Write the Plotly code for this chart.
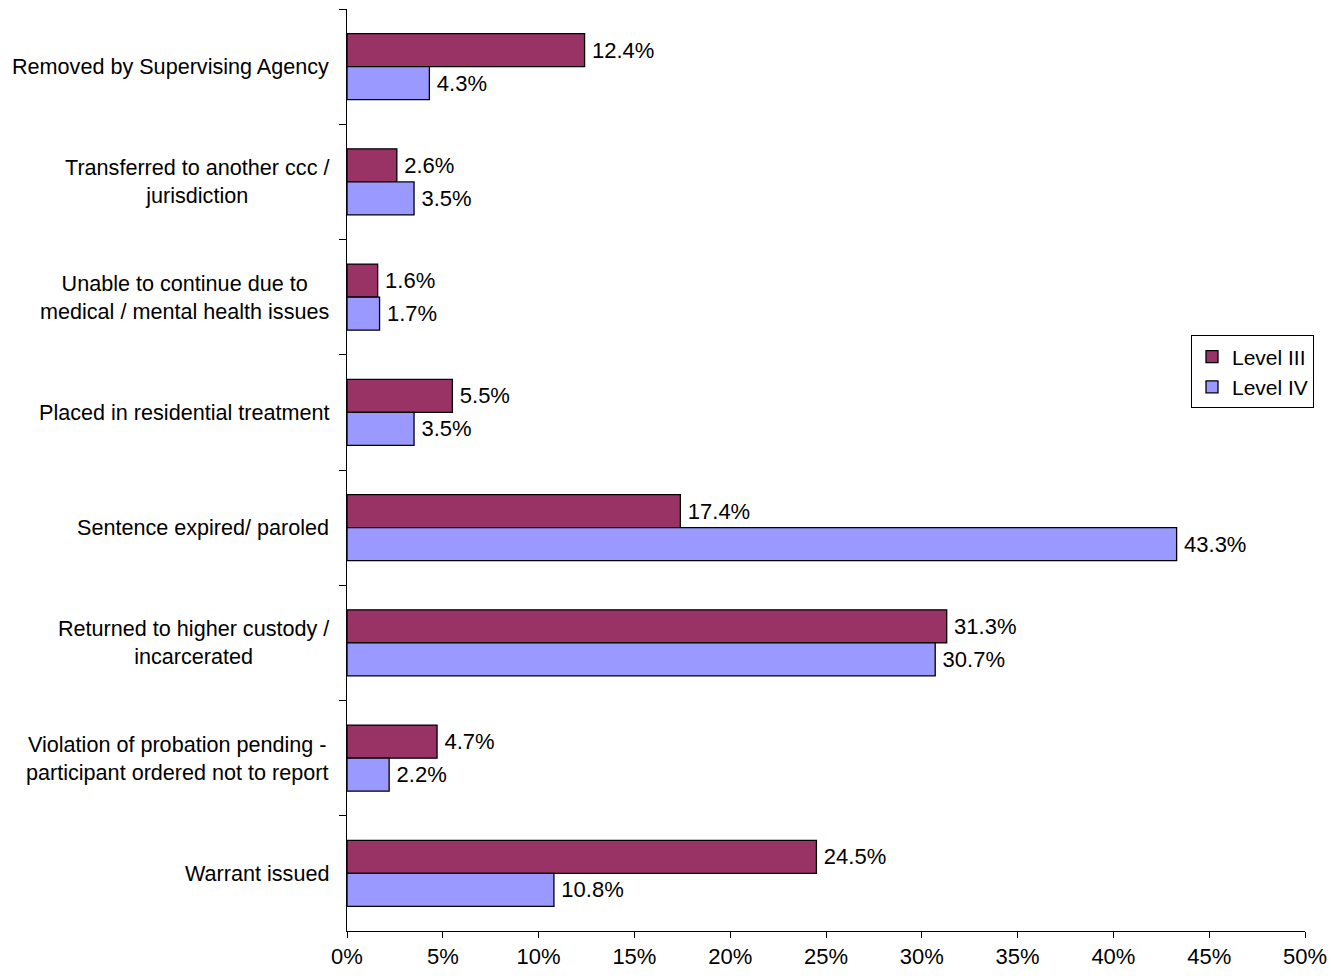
import plotly.graph_objects as go

categories = [
    "Removed by Supervising Agency",
    "Transferred to another ccc /<br>jurisdiction",
    "Unable to continue due to<br>medical / mental health issues",
    "Placed in residential treatment",
    "Sentence expired/ paroled",
    "Returned to higher custody /<br>incarcerated",
    "Violation of probation pending -<br>participant ordered not to report",
    "Warrant issued",
]
level_iii = [12.4, 2.6, 1.6, 5.5, 17.4, 31.3, 4.7, 24.5]
level_iv = [4.3, 3.5, 1.7, 3.5, 43.3, 30.7, 2.2, 10.8]
x_ticks = [0, 5, 10, 15, 20, 25, 30, 35, 40, 45, 50]
x_tick_labels = [f"{v}%" for v in x_ticks]

FONT = "Liberation Sans, Arial, sans-serif"

fig = go.Figure()
for name, vals, color in [("Level III", level_iii, "#993366"), ("Level IV", level_iv, "#9999FF")]:
    fig.add_trace(go.Bar(
        name=name, y=categories, x=vals, orientation="h",
        marker=dict(color=color, line=dict(color="black", width=1.3)),
        text=[f"\u2009{v:.1f}%" for v in vals], textposition="outside",
        textfont=dict(family=FONT, size=22, color="black"),
        cliponaxis=False, constraintext="none",
    ))

# centred multi-line category labels
for cat in categories:
    fig.add_annotation(
        xref="paper", yref="y", x=0, y=cat, xanchor="right", yanchor="middle",
        xshift=-16, text=cat, showarrow=False, align="center",
        font=dict(family=FONT, size=21.6, color="black"),
    )

fig.update_layout(
    width=1331, height=976,
    margin=dict(l=347, r=26, t=9, b=45, autoexpand=False),
    paper_bgcolor="white", plot_bgcolor="white",
    barmode="group", bargap=0.427, bargroupgap=0,
    font=dict(family=FONT, size=22, color="black"),
    xaxis=dict(range=[0, 50], tickvals=x_ticks, ticktext=x_tick_labels,
               showgrid=False, zeroline=False, showline=True, linecolor="black", linewidth=1,
               ticks="outside", ticklen=6, tickcolor="black",
               tickfont=dict(family=FONT, size=22, color="black")),
    yaxis=dict(autorange="reversed", showgrid=False, showline=True, linecolor="black", linewidth=1,
               ticks="outside", ticklen=7, tickcolor="black", tickson="boundaries",
               showticklabels=False),
    legend=dict(x=0.881, y=0.646, xanchor="left", yanchor="top",
                bordercolor="black", borderwidth=1, bgcolor="white",
                font=dict(family=FONT, size=21, color="black"),
                itemwidth=30, tracegroupgap=0),
)

fig.write_html("out.html", config={"displayModeBar": False},
               post_script="document.body.style.margin='0';document.body.style.overflow='hidden';")
